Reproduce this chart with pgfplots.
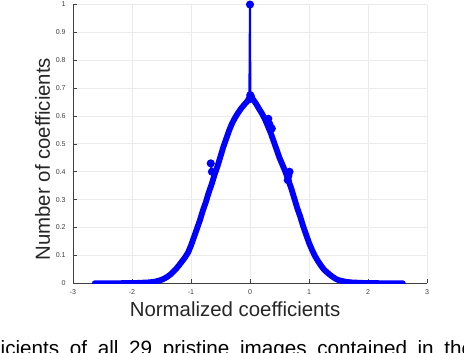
\documentclass[border=0pt]{standalone}
\usepackage{pgfplots}
\pgfplotsset{compat=1.18}
\usepackage{fontspec}
\setmainfont{Liberation Sans}
\definecolor{mblue}{RGB}{0,0,255}
\definecolor{axgray}{RGB}{64,64,64}
\definecolor{labgray}{RGB}{38,38,38}
\definecolor{gridgray}{RGB}{235,235,235}
\begin{document}
\begin{tikzpicture}
\useasboundingbox (-54.75pt,-51.75pt) rectangle (293.25pt,212.4pt);
\begin{axis}[
  at={(0,0)}, anchor=south west,
  scale only axis, width=265.5pt, height=209pt,
  xmin=-3, xmax=3, ymin=0, ymax=1,
  axis x line*=bottom, axis y line*=left,
  axis line style={draw=axgray, line width=0.5pt},
  xtick={-3,-2,-1,0,1,2,3},
  ytick={0,0.1,0.2,0.3,0.4,0.5,0.6,0.7,0.8,0.9,1},
  tick align=inside, major tick length=3pt,
  tick style={draw=axgray, line width=0.5pt},
  grid=major, grid style={draw=gridgray, line width=0.6pt},
  /pgf/number format/assume math mode=true,
  tick label style={font=\fontsize{5.3}{6}\selectfont, text=axgray},
  yticklabel style={xshift=-2pt},
  xticklabel style={yshift=-1pt},
  xlabel={Normalized coefficients},
  ylabel={Number of coefficients},
  label style={font=\fontsize{15.3}{17}\selectfont, text=labgray},
  xlabel style={at={(axis description cs:0.458,0)}, anchor=base, yshift=-24.75pt},
  ylabel style={at={(axis description cs:0,0.445)}, anchor=base, yshift=17.25pt},
]
\addplot[mblue, line width=4.4pt, line join=round, line cap=round] coordinates {
(-2.63,0) (-2.4,0) (-2.2,0) (-2.0,0.0005) (-1.9,0.001) (-1.8,0.002) (-1.7,0.003)
(-1.6,0.006) (-1.5,0.012) (-1.45,0.017) (-1.4,0.023) (-1.35,0.031) (-1.3,0.041)
(-1.25,0.052) (-1.2,0.065) (-1.15,0.079) (-1.1,0.093) (-1.05,0.11) (-1.0,0.135)
(-0.95,0.165) (-0.9,0.195) (-0.85,0.225) (-0.8,0.26) (-0.75,0.29) (-0.7,0.325)
(-0.65,0.355) (-0.6,0.39) (-0.55,0.42) (-0.5,0.455) (-0.45,0.49) (-0.4,0.52)
(-0.35,0.55) (-0.3,0.575) (-0.25,0.595) (-0.2,0.612) (-0.15,0.627) (-0.1,0.64)
(-0.05,0.652) (-0.01,0.66)
(0.01,0.665) (0.05,0.66) (0.1,0.645) (0.15,0.627) (0.2,0.61) (0.25,0.59)
(0.3,0.565) (0.35,0.54) (0.4,0.51) (0.45,0.48) (0.5,0.45) (0.55,0.425) (0.6,0.40)
(0.65,0.37) (0.7,0.34) (0.75,0.305) (0.8,0.27) (0.85,0.24) (0.9,0.205) (0.95,0.175)
(1.0,0.145) (1.05,0.12) (1.1,0.098) (1.15,0.08) (1.2,0.064) (1.25,0.05) (1.3,0.04)
(1.35,0.031) (1.4,0.023) (1.45,0.016) (1.5,0.011) (1.6,0.006) (1.7,0.003)
(1.8,0.002) (1.9,0.001) (2.0,0.0005) (2.2,0) (2.4,0) (2.59,0)
};
\addplot[mblue, line width=1.6pt, mark=*, mark size=2.2pt] coordinates {
(-0.01,0.66) (0,1) (0.005,0.675) (0.02,0.668)
};
\addplot[mblue, line width=1.6pt, mark=*, mark size=2.2pt] coordinates {
(-0.665,0.43) (-0.645,0.40)
};
\addplot[mblue, line width=1.6pt, mark=*, mark size=2.2pt] coordinates {
(0.31,0.59) (0.33,0.57) (0.37,0.555)
};
\addplot[mblue, line width=1.6pt, mark=*, mark size=2.2pt] coordinates {
(0.67,0.40) (0.65,0.385) (0.64,0.37)
};
\end{axis}
\node[anchor=base west, font=\fontsize{15.5}{17}\selectfont, text=black, inner sep=0pt] at (-54.4pt,-54pt) {\spaceskip=8pt\relax icients of all 29 pristine images contained in the LIVE database};
\end{tikzpicture}
\end{document}
